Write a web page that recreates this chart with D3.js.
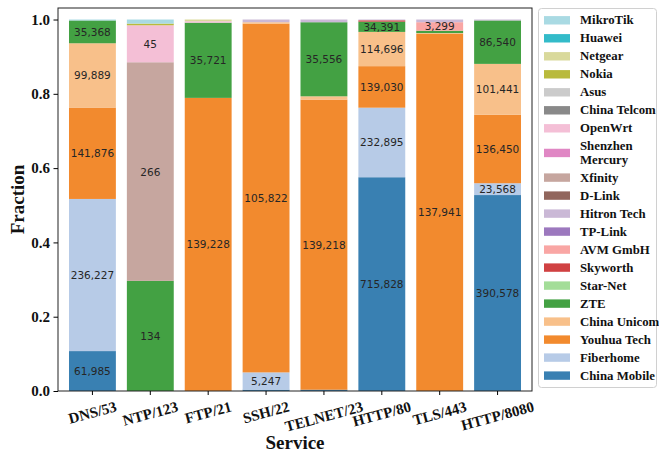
<!DOCTYPE html>
<html>
<head>
<meta charset="utf-8">
<script src="https://cdn.jsdelivr.net/npm/d3@7/dist/d3.min.js"></script>
<style>
  body { margin: 0; background: #fff; }
  svg { display: block; }
</style>
</head>
<body>
<svg id="chart" width="659" height="453"></svg>
<script>
const services = ['DNS/53', 'NTP/123', 'FTP/21', 'SSH/22', 'TELNET/23', 'HTTP/80', 'TLS/443', 'HTTP/8080']

// vendors, bottom of the stack first
const vendors = ['China Mobile', 'Fiberhome', 'Youhua Tech', 'China Unicom', 'ZTE', 'Star-Net', 'Skyworth',
  'AVM GmbH', 'TP-Link', 'Hitron Tech', 'D-Link', 'Xfinity', 'Shenzhen Mercury', 'OpenWrt', 'China Telcom',
  'Asus', 'Nokia', 'Netgear', 'Huawei', 'MikroTik']

const colors = ['#1f77b4', '#aec7e8', '#ff7f0e', '#ffbb78', '#2ca02c', '#98df8a', '#d62728', '#ff9896',
  '#9467bd', '#c5b0d5', '#8c564b', '#c49c94', '#e377c2', '#f7b6d2', '#7f7f7f', '#c7c7c7', '#bcbd22',
  '#dbdb8d', '#17becf', '#9edae5']

// device counts per service (same order as services)
const chinaMobile  = [61985, 0, 0, 400, 620, 715828, 0, 390578]
const fiberhome    = [236227, 0, 0, 5247, 0, 232895, 0, 23568]
const youhuaTech   = [141876, 0, 139228, 105822, 139218, 139030, 137941, 136450]
const chinaUnicom  = [99889, 0, 0, 450, 1600, 114696, 300, 101441]
const zte          = [35368, 134, 35721, 0, 35556, 34391, 900, 86540]
const starNet      = [0, 0, 0, 0, 0, 0, 0, 0]
const skyworth     = [0, 0, 0, 0, 0, 4500, 0, 0]
const avmGmbh      = [0, 0, 0, 0, 0, 0, 3299, 0]
const tpLink       = [0, 0, 0, 0, 0, 0, 0, 0]
const hitronTech   = [0, 0, 0, 825, 1300, 2600, 1040, 1900]
const dLink        = [0, 0, 0, 0, 0, 0, 0, 0]
const xfinity      = [0, 266, 0, 0, 0, 0, 0, 0]
const shenzhenMerc = [0, 0, 0, 0, 0, 0, 0, 0]
const openWrt      = [0, 45, 700, 0, 0, 0, 0, 0]
const chinaTelcom  = [0, 0, 0, 0, 0, 0, 0, 0]
const asus         = [0, 0, 0, 0, 0, 0, 0, 0]
const nokia        = [0, 2, 0, 0, 0, 0, 0, 0]
const netgear      = [0, 0, 800, 0, 0, 0, 0, 0]
const huawei       = [0, 0, 0, 0, 0, 0, 0, 0]
const mikroTik     = [1500, 5, 0, 0, 0, 0, 0, 0]

const counts = [chinaMobile, fiberhome, youhuaTech, chinaUnicom, zte, starNet, skyworth, avmGmbh, tpLink,
  hitronTech, dLink, xfinity, shenzhenMerc, openWrt, chinaTelcom, asus, nokia, netgear, huawei, mikroTik]

const yTicks = [0, 0.2, 0.4, 0.6, 0.8, 1.0]

const table = services.map((s, i) => {
  const row = { service: s }
  vendors.forEach((v, j) => { row[v] = counts[j][i] })
  return row
})

const serif = 'Liberation Serif, Times New Roman, serif'
const svg = d3.select('#chart')

const plot = { left: 58, right: 532, top: 8, bottom: 391 }

const x = d3.scaleBand()
  .domain(services)
  .range([plot.left, plot.right])
  .paddingInner(0.19)
  .paddingOuter(0.19)

const y = d3.scaleLinear()
  .domain([0, 1.031])
  .range([plot.bottom, plot.top])

// slightly muted palette, like the reference
const muted = colors.map(c => {
  const h = d3.hsl(c)
  h.s *= 0.88
  return h.formatHex()
})
const color = d3.scaleOrdinal().domain(vendors).range(muted)

const series = d3.stack()
  .keys(vendors)
  .offset(d3.stackOffsetExpand)(table)

const layers = svg.append('g')
  .selectAll('g')
  .data(series)
  .enter()
  .append('g')
  .attr('fill', d => color(d.key))
  .attr('fill-opacity', 0.92)

layers.selectAll('rect')
  .data(d => d)
  .enter()
  .append('rect')
  .attr('x', d => x(d.data.service))
  .attr('width', x.bandwidth())
  .attr('y', d => y(d[1]))
  .attr('height', d => Math.max(0, y(d[0]) - y(d[1])))

// count labels on the bigger segments
const fmt = d3.format(',')
series.forEach(layer => {
  layer.forEach(d => {
    if (d[1] - d[0] < 0.02) return
    svg.append('text')
      .attr('x', x(d.data.service) + x.bandwidth() / 2)
      .attr('y', y((d[0] + d[1]) / 2))
      .attr('text-anchor', 'middle')
      .attr('dominant-baseline', 'central')
      .attr('font-family', 'DejaVu Sans, sans-serif')
      .attr('font-size', 10.5)
      .attr('fill', '#262626')
      .text(fmt(d.data[layer.key]))
  })
})

// frame
svg.append('rect')
  .attr('x', plot.left)
  .attr('y', plot.top)
  .attr('width', plot.right - plot.left)
  .attr('height', plot.bottom - plot.top)
  .attr('fill', 'none')
  .attr('stroke', '#222')
  .attr('stroke-width', 1)

const yAxis = svg.append('g')
  .attr('transform', `translate(${plot.left},0)`)
  .call(d3.axisLeft(y).tickValues(yTicks).tickFormat(d3.format('.1f')).tickSize(4.5).tickPadding(3.5))
yAxis.select('.domain').remove()
yAxis.selectAll('text')
  .attr('font-family', serif)
  .attr('font-weight', 'bold')
  .attr('font-size', 15)
  .attr('fill', '#111')

const xAxis = svg.append('g')
  .attr('transform', `translate(0,${plot.bottom})`)
  .call(d3.axisBottom(x).tickSize(4).tickPadding(0))
xAxis.select('.domain').remove()
const ang = 15 * Math.PI / 180
xAxis.selectAll('text')
  .attr('font-family', serif)
  .attr('font-weight', 'bold')
  .attr('font-size', 15)
  .attr('fill', '#111')
  .attr('text-anchor', 'middle')
  .attr('dominant-baseline', 'central')
  .each(function () {
    const len = this.getComputedTextLength()
    const yc = 8.5 + (len * Math.sin(ang) + 14 * Math.cos(ang)) / 2
    d3.select(this)
      .attr('y', null)
      .attr('dy', null)
      .attr('transform', `translate(0,${yc}) rotate(-15)`)
  })

svg.append('text')
  .attr('x', (plot.left + plot.right) / 2)
  .attr('y', 442)
  .attr('text-anchor', 'middle')
  .attr('dominant-baseline', 'central')
  .attr('font-family', serif)
  .attr('font-weight', 'bold')
  .attr('font-size', 19)
  .attr('fill', '#111')
  .text('Service')

svg.append('text')
  .attr('transform', `translate(17,${(plot.top + plot.bottom) / 2}) rotate(-90)`)
  .attr('text-anchor', 'middle')
  .attr('dominant-baseline', 'central')
  .attr('font-family', serif)
  .attr('font-weight', 'bold')
  .attr('font-size', 19)
  .attr('fill', '#111')
  .text('Fraction')

// legend, top of the stack first
const legend = svg.append('g')
legend.append('rect')
  .attr('x', 538.5)
  .attr('y', 8.5)
  .attr('width', 118)
  .attr('height', 379)
  .attr('rx', 3)
  .attr('fill', '#fff')
  .attr('stroke', '#d0d0d0')

let ly = 20.3
vendors.slice().reverse().forEach(v => {
  const lines = v === 'Shenzhen Mercury' ? ['Shenzhen', 'Mercury'] : [v]
  const cy = ly + (lines.length - 1) * 6.65
  legend.append('rect')
    .attr('x', 544)
    .attr('y', cy - 4.2)
    .attr('width', 26)
    .attr('height', 8.4)
    .attr('fill', color(v))
    .attr('fill-opacity', 0.92)
  lines.forEach((t, k) => {
    legend.append('text')
      .attr('x', 580)
      .attr('y', cy + (k - (lines.length - 1) / 2) * 13.3)
      .attr('dominant-baseline', 'central')
      .attr('font-family', serif)
      .attr('font-weight', 'bold')
      .attr('font-size', 12.8)
      .attr('fill', '#111')
      .text(t)
  })
  ly += 18 + (lines.length - 1) * 13.3
})
</script>
</body>
</html>
